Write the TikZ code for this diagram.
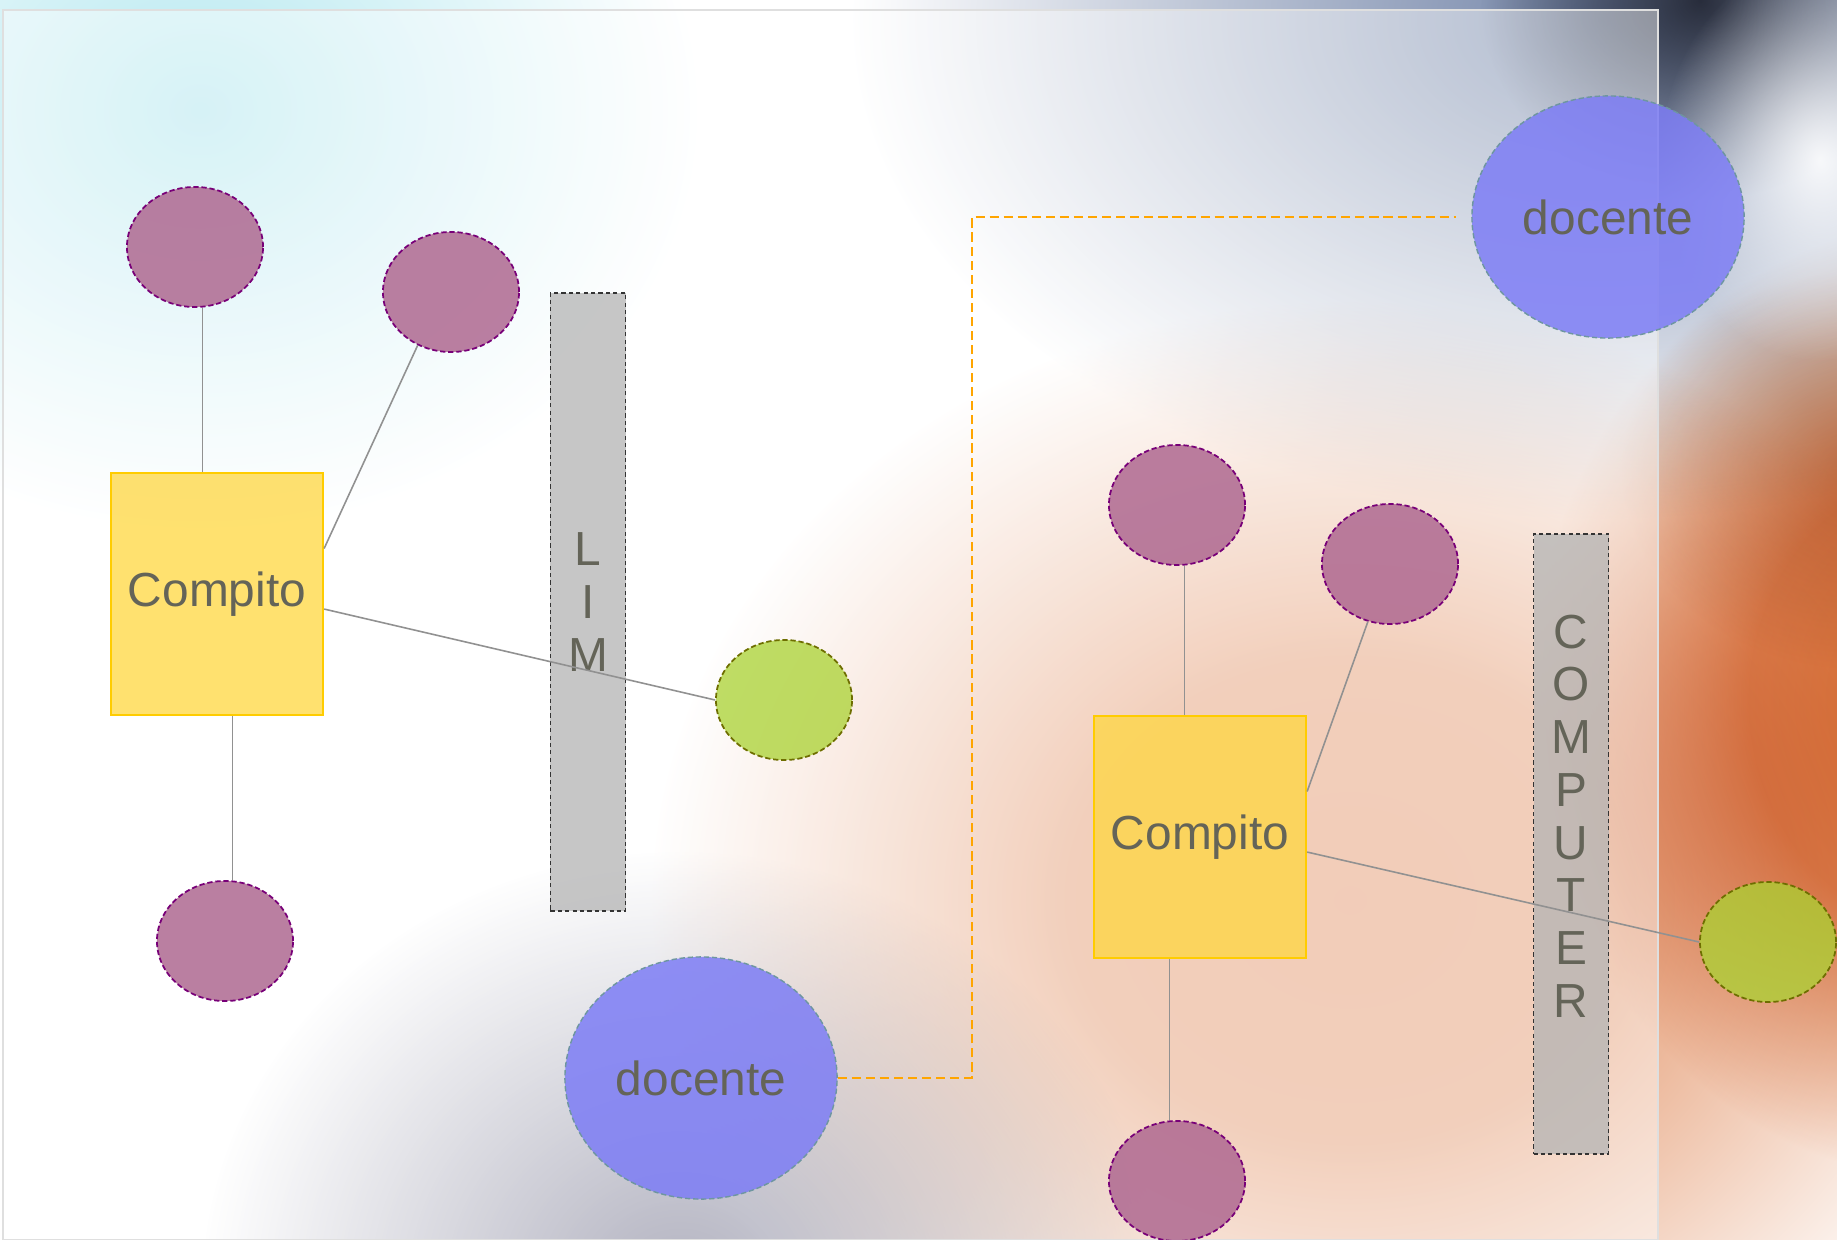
\documentclass[tikz,border=0pt]{standalone}
\usepackage{fontspec}
\setmainfont{Liberation Sans}
\usetikzlibrary{positioning,shapes.geometric}

\definecolor{txtgrey}{RGB}{100,100,88}
\definecolor{pinkfill}{RGB}{175,105,145}
\definecolor{pinkline}{RGB}{120,0,120}
\definecolor{limefill}{RGB}{170,210,50}
\definecolor{limeline}{RGB}{110,110,0}
\definecolor{bluefill}{RGB}{125,125,245}
\definecolor{blueline}{RGB}{110,150,160}
\definecolor{boxfill}{RGB}{255,215,64}
\definecolor{boxline}{RGB}{255,204,0}
\definecolor{barfill}{RGB}{180,180,180}
\definecolor{linegrey}{RGB}{145,145,145}
\definecolor{dashorange}{RGB}{255,165,0}

% background blobs (path box = 25bp radius)
\pgfdeclareradialshading{bgcyan}{\pgfpoint{0bp}{0bp}}{rgb(0bp)=(0.71,0.91,0.94); rgb(25bp)=(1,1,1); rgb(50bp)=(1,1,1)}
\pgfdeclareradialshading{bgblue}{\pgfpoint{0bp}{0bp}}{rgb(0bp)=(0.45,0.52,0.66); rgb(25bp)=(1,1,1); rgb(50bp)=(1,1,1)}
\pgfdeclareradialshading{bgpeach}{\pgfpoint{0bp}{0bp}}{rgb(0bp)=(0.91,0.64,0.50); rgb(10bp)=(0.91,0.66,0.52); rgb(25bp)=(1,1,1); rgb(50bp)=(1,1,1)}
\pgfdeclareradialshading{bggrey}{\pgfpoint{0bp}{0bp}}{rgb(0bp)=(0.45,0.45,0.55); rgb(25bp)=(1,1,1); rgb(50bp)=(1,1,1)}
\pgfdeclareradialshading{bgorange}{\pgfpoint{0bp}{0bp}}{rgb(0bp)=(0.85,0.45,0.20); rgb(12bp)=(0.88,0.55,0.35); rgb(25bp)=(1,1,1); rgb(50bp)=(1,1,1)}
\pgfdeclareradialshading{bgburnt}{\pgfpoint{0bp}{0bp}}{rgb(0bp)=(0.85,0.70,0.60); rgb(25bp)=(1,1,1); rgb(50bp)=(1,1,1)}
\pgfdeclareradialshading{bgdark}{\pgfpoint{0bp}{0bp}}{rgb(0bp)=(0.3,0.3,0.33); rgb(25bp)=(1,1,1); rgb(50bp)=(1,1,1)}
\pgfdeclareradialshading{bglight}{\pgfpoint{0bp}{0bp}}{rgb(0bp)=(0.9,0.9,0.9); rgb(25bp)=(0,0,0); rgb(50bp)=(0,0,0)}

\begin{document}
\begin{tikzpicture}[
    x=0.01cm, y=-0.01cm,
    every node/.style={
        font=\fontsize{13.6}{15}\selectfont,
        text=txtgrey
        },
    pinkel/.style={
        ellipse,
        inner sep=0pt,
        minimum width=1.36cm,
        minimum height=1.2cm,
        fill=pinkfill,
        fill opacity=.85,
        draw=pinkline,
        line width=.5pt,
        dash pattern=on 1.5pt off .8pt
        },
    limeel/.style={
        pinkel,
        fill=limefill,
        fill opacity=.75,
        draw=limeline
        },
    teacher/.style={
        ellipse,
        inner sep=0pt,
        minimum width=2.72cm,
        minimum height=2.42cm,
        fill=bluefill,
        fill opacity=.85,
        text opacity=1,
        draw=blueline,
        line width=.4pt,
        dash pattern=on 1.5pt off .8pt
        },
    task/.style={
        rectangle,
        inner sep=0pt,
        minimum width=2.12cm,
        minimum height=2.42cm,
        fill=boxfill,
        fill opacity=.75,
        text opacity=1,
        draw=boxline,
        line width=.6pt
        },
    bar/.style={
        rectangle,
        inner sep=0pt,
        minimum width=.75cm,
        fill=barfill,
        fill opacity=.75,
        draw=black!80,
        line width=.5pt,
        dash pattern=on 1.2pt off .9pt
        },
    vtext/.style={
        align=center,
        inner sep=0pt
        },
    conn/.style={
        draw=linegrey,
        line width=.45pt
        },
    dashline/.style={
        draw=dashorange,
        line width=.45pt,
        dash pattern=on 2.6pt off 1.4pt
        },
]

\useasboundingbox (0,0) rectangle (1837,1240);

% background
\begin{scope}
\clip (0,0) rectangle (1837,1240);
\fill[white] (0,0) rectangle (1837,1240);
\begin{scope}[blend mode=multiply]
\shade[shading=bgcyan] (200,110) ellipse [x radius=500, y radius=420];
\shade[shading=bgblue] (1600,20) ellipse [x radius=750, y radius=500];
\shade[shading=bgpeach] (1350,900) ellipse [x radius=700, y radius=600];
\shade[shading=bggrey] (680,1290) ellipse [x radius=480, y radius=440];
\shade[shading=bgorange] (1950,700) ellipse [x radius=420, y radius=480];
\shade[shading=bgburnt] (1860,470) ellipse [x radius=240, y radius=200];
\shade[shading=bgdark] (1700,0) ellipse [x radius=220, y radius=200];
\end{scope}
\shade[shading=bglight, blend mode=screen] (1820,160) ellipse [x radius=160, y radius=200];
\fill[white, opacity=.45] (3,10) rectangle (1658,1240);
\draw[gray!25] (3,10) rectangle (1658,1240);
\end{scope}

% left group
\node[task](cl) at (217,594) {Compito};
\node[pinkel](lt1) at (195,247) {};
\node[pinkel](lt2) at (451,292) {};
\node[pinkel](lb) at (225,941) {};
\node[limeel](lg) at (784,700) {};
\node[bar, minimum height=6.18cm](lim) at (588,602) {};
\node[vtext](limtext) at (lim) {L\\I\\M};

\draw[conn] (lt1.-83) -- (lt1.-83 |- cl.north);
\draw[conn] (cl.23.5) -- (lt2.-122);
\draw[conn] (cl.-8) -- (lg.west);
\draw[conn] (lb.83) -- (lb.83 |- cl.south);

% right group
\node[task](cr) at (1200,837) {Compito};
\node[pinkel](rt1) at (1177,505) {};
\node[pinkel](rt2) at (1390,564) {};
\node[pinkel](rb) at (1177,1181) {};
\node[limeel](rg) at (1768,942) {};
\node[bar, minimum height=6.2cm](comp) at (1571,844) {};
\node[vtext](comptext) at (1571,816) {C\\O\\M\\P\\U\\T\\E\\R};

\draw[conn] (rt1.-83) -- (rt1.-83 |- cr.north);
\draw[conn] (cr.23) -- (rt2.-111);
\draw[conn] (cr.-8) -- (rg.west);
\draw[conn] (rb.97) -- (rb.97 |- cr.south);

% teachers
\node[teacher](dt) at (1608,217) {docente};
\node[teacher](db) at (701,1078) {docente};
\coordinate (bend) at (972,217);
\draw[dashline, shorten >=.15cm] (db.east) -| (bend) -- (dt.west);

\end{tikzpicture}
\end{document}
